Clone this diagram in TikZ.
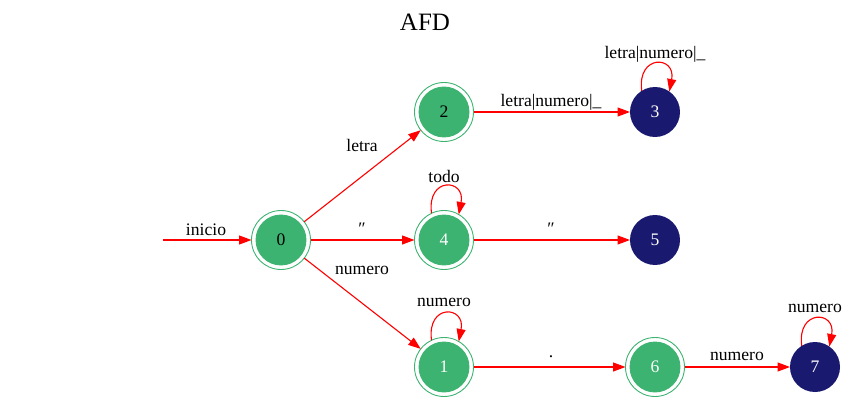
\documentclass[tikz,border=0pt]{standalone}
\usepackage{fontspec}
\setmainfont{Liberation Serif}
\usetikzlibrary{arrows.meta}
\definecolor{mgreen}{HTML}{3CB371}
\definecolor{mnavy}{HTML}{191970}
\begin{document}
\begin{tikzpicture}[x=1pt,y=-1pt,
  lbl/.style={font=\fontsize{17.6}{19}\selectfont, inner sep=0pt},
  ring/.style={circle, draw=mgreen, line width=0.9pt, minimum size=59pt, inner sep=0pt, outer sep=0pt},
  accin/.style={circle, draw=mgreen, fill=mgreen, line width=0.9pt, minimum size=50pt, inner sep=0pt, font=\fontsize{17.6}{19}\selectfont},
  rej/.style={circle, fill=mnavy, minimum size=50pt, inner sep=0pt, outer sep=0pt, text=white, font=\fontsize{17.6}{19}\selectfont},
  edge/.style={draw=red, line width=1.1pt, -{Triangle[length=12.5pt,width=9pt]}}
]
\useasboundingbox (0,0) rectangle (849,401);
\node[font=\fontsize{25}{27}\selectfont] (title) at (425,22) {AFD};

% accepting states
\node[ring] (n0) at (281,240) {};
\node[accin] (n0c) at (n0) {0};
\node[ring] (n2) at (444,112) {};
\node[accin] (n2c) at (n2) {2};
\node[ring] (n4) at (444,240) {};
\node[accin, text=white] (n4c) at (n4) {4};
\node[ring] (n1) at (444,367) {};
\node[accin, text=white] (n1c) at (n1) {1};
\node[ring] (n6) at (655,367) {};
\node[accin, text=white] (n6c) at (n6) {6};
% other states
\node[rej] (n3) at (655,112) {3};
\node[rej] (n5) at (655,240) {5};
\node[rej] (n7) at (815,367) {7};

\coordinate (start) at (163,240);

% edges
\draw[edge] (start) -- (n0);
\draw[edge] (n0) -- (n2);
\draw[edge] (n0) -- (n4);
\draw[edge] (n0) -- (n1);
\draw[edge] (n2) -- (n3);
\draw[edge] (n4) -- (n5);
\draw[edge] (n1) -- (n6);
\draw[edge] (n6) -- (n7);

% loops
\draw[edge] (n3.122) .. controls +(-5,-37) and +(7,-36) .. (n3.55);
\draw[edge] (n4.115) .. controls +(-5,-37) and +(7,-36) .. (n4.60);
\draw[edge] (n1.115) .. controls +(-5,-37) and +(7,-36) .. (n1.60);
\draw[edge] (n7.122) .. controls +(-5,-37) and +(7,-36) .. (n7.55);

% labels
\node[lbl] (linicio) at (206,230) {inicio};
\node[lbl] (lletra) at (362,145) {letra};
\node[lbl] (lq1) at (362,229) {″};
\node[lbl] (lnum1) at (362,270) {numero};
\node[lbl] (l23) at (551,102) {letra|numero|\_};
\node[lbl] (l33) at (655,54) {letra|numero|\_};
\node[lbl] (l44) at (444,176) {todo};
\node[lbl] (lq2) at (551,229) {″};
\node[lbl] (l11) at (444,302) {numero};
\node[lbl] (ldot) at (551,357) {.};
\node[lbl] (l67) at (737,356) {numero};
\node[lbl] (l77) at (815,308) {numero};
\end{tikzpicture}
\end{document}
